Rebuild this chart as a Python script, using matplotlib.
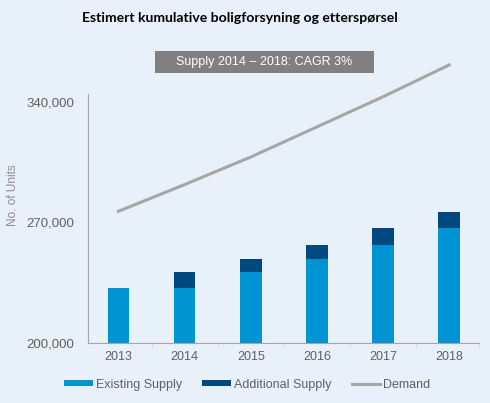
"""Estimert kumulative boligforsyning og etterspørsel."""

import matplotlib
matplotlib.use("Agg")
import matplotlib.pyplot as plt
from matplotlib.patches import Rectangle
from matplotlib.ticker import FuncFormatter

years = ["2013", "2014", "2015", "2016", "2017", "2018"]
existing_supply = [232000, 232000, 241000, 249000, 257000, 267000]
additional_supply = [0, 9000, 8000, 8000, 10000, 9000]
demand = [276500, 292000, 308000, 325500, 343000, 361500]

BG = "#e8f0f9"
LIGHT = "#0094d2"
DARK = "#004880"
GREY_LINE = "#a6a6a6"
TEXT = "#606060"


def main() -> None:
    plt.rcParams["font.family"] = ["Liberation Sans", "DejaVu Sans"]
    fig = plt.figure(figsize=(4.9, 4.03), dpi=100, facecolor=BG)
    ax = fig.add_axes([0.1796, 0.1489, 0.798, 0.705])
    ax.set_facecolor(BG)

    x = list(range(len(years)))
    base = 200000
    b1 = ax.bar(x, [v - base for v in existing_supply], bottom=base, width=0.325, color=LIGHT,
                label="Existing Supply")
    b2 = ax.bar(x, additional_supply, bottom=existing_supply, width=0.325, color=DARK,
                label="Additional Supply")
    (ln,) = ax.plot(x, demand, color=GREY_LINE, linewidth=2.2, label="Demand")

    ax.set_xlim(-0.46, 5.45)
    ax.set_ylim(200000, 365000)
    ax.set_yticks([200000, 270000, 340000])
    ax.yaxis.set_major_formatter(FuncFormatter(lambda v, _: f"{int(v):,}"))
    ax.set_xticks(x)
    ax.set_xticklabels(years)
    ax.set_xticks([0.5, 1.5, 2.5, 3.5, 4.5, 5.45], minor=True)
    ax.tick_params(axis="x", which="major", length=0, pad=6, labelsize=9, colors=TEXT)
    ax.tick_params(axis="x", which="minor", length=3, color="#d0d6dd")
    ax.tick_params(axis="y", length=0, pad=10, labelsize=9.5, colors=TEXT)

    for side in ("top", "right"):
        ax.spines[side].set_visible(False)
    ax.spines["left"].set_color(GREY_LINE)
    ax.spines["bottom"].set_color(GREY_LINE)
    ax.spines["left"].set_bounds(200000, 344500)

    fig.text(0.026, 0.515, "No. of Units", rotation=90, ha="center", va="center",
             fontsize=8.5, color="#8c8c8c")

    fig.text(0.49, 0.955, "Estimert kumulative boligforsyning og etterspørsel",
             ha="center", va="center", fontsize=10.1, fontweight="bold", color="black",
             family=["Lato", "DejaVu Sans"])
    fig.patches.append(Rectangle((0.3163, 0.8189), 0.447, 0.0546, transform=fig.transFigure,
                                 facecolor="#808080", edgecolor="none"))
    fig.text(0.54, 0.846, "Supply 2014 – 2018: CAGR 3%", ha="center", va="center",
             fontsize=9, color="white")

    fig.legend([b1, b2, ln], ["Existing Supply", "Additional Supply", "Demand"],
               loc="center", bbox_to_anchor=(0.505, 0.045), ncol=3, frameon=False,
               fontsize=9, labelcolor=TEXT, handlelength=2.3, handleheight=0.35,
               handletextpad=0.25, columnspacing=1.6)

    fig.savefig("out.png", dpi=100, facecolor=BG)
    plt.close(fig)


if __name__ == "__main__":
    main()
